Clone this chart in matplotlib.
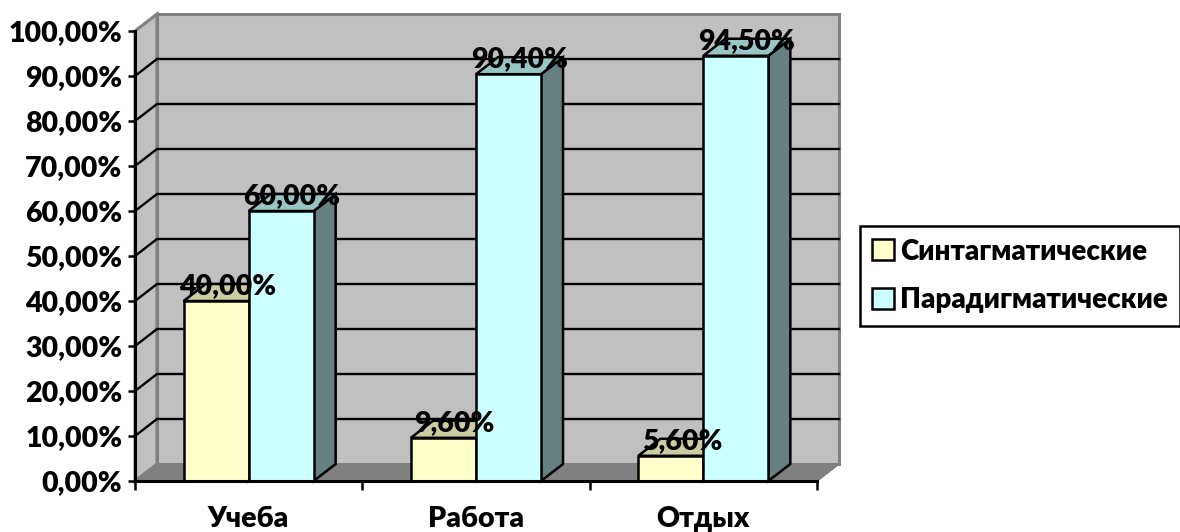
"""Pseudo-3D clustered column chart."""

import matplotlib

matplotlib.use("Agg")
import matplotlib.pyplot as plt
from matplotlib.patches import Patch, Polygon

plt.rcParams["font.family"] = ["Lato", "Open Sans", "DejaVu Sans"]

categories = ["Учеба", "Работа", "Отдых"]
syntagmatic = [40.0, 9.6, 5.6]
paradigmatic = [60.0, 90.4, 94.5]
y_ticks = [0, 10, 20, 30, 40, 50, 60, 70, 80, 90, 100]
series_names = ["Синтагматические", "Парадигматические"]

W, H = 1180, 532
DX = 22 / 227.3  # depth of the box in category units
DY = 17 / 4.5  # depth of the box in percent units
BAR_W = 65 / 227.3

WALL = "#C0C0C0"
FLOOR = "#808080"
YELLOW = "#FFFFCC"
YELLOW_TOP = "#CCCCA3"
CYAN = "#CCFFFF"
CYAN_TOP = "#99C5C5"
CYAN_SIDE = "#668080"
FONT_SIZE = 20.5
FONT_WEIGHT = 800


def fmt(v):
    return f"{v:.2f}".replace(".", ",") + "%"


def add_poly(ax, pts, face, edge="black", lw=1.8, z=3):
    ax.add_patch(Polygon(pts, closed=True, facecolor=face, edgecolor=edge,
                         linewidth=lw, clip_on=False, zorder=z, joinstyle="miter"))


fig = plt.figure(figsize=(W / 100, H / 100), dpi=100)
ax = fig.add_axes([135 / W, (H - 481) / H, 682 / W, 450 / H])
ax.set_xlim(0, 3)
ax.set_ylim(0, 100)
ax.patch.set_visible(False)

n = len(categories)
top = y_ticks[-1]

# walls and floor
add_poly(ax, [(DX, DY), (n + DX, DY), (n + DX, top + DY), (DX, top + DY)], WALL, FLOOR, 2.2, 1)
add_poly(ax, [(0, 0), (DX, DY), (DX, top + DY), (0, top)], WALL, FLOOR, 2.2, 1)
add_poly(ax, [(0, 0), (n, 0), (n + DX, DY), (DX, DY)], FLOOR, FLOOR, 1.2, 1)

# gridlines on the side and back walls
for v in y_ticks[1:-1]:
    ax.plot([0, DX, n + DX], [v, v + DY, v + DY], color="black", lw=1.7,
            clip_on=False, zorder=2, solid_joinstyle="miter")

for i in range(n):
    centre = i + 0.5
    for j, (vals, face, top_col) in enumerate(
        [(syntagmatic, YELLOW, YELLOW_TOP), (paradigmatic, CYAN, CYAN_TOP)]
    ):
        v = vals[i]
        x0 = centre - BAR_W + j * BAR_W
        x1 = x0 + BAR_W
        add_poly(ax, [(x1, 0), (x1 + DX, DY), (x1 + DX, v + DY), (x1, v)], CYAN_SIDE, z=3 + j)
        add_poly(ax, [(x0, v), (x1, v), (x1 + DX, v + DY), (x0 + DX, v + DY)], top_col, z=3 + j)
        ax.bar(x0, v, width=BAR_W, align="edge", color=face, edgecolor="black",
               linewidth=1.8, clip_on=False, zorder=3 + j)
        ax.text((x0 + x1) / 2 + DX / 2, v + DY * 0.88, fmt(v), ha="center", va="center",
                fontsize=FONT_SIZE, fontweight=FONT_WEIGHT, color="black", zorder=10)

for side in ["top", "right"]:
    ax.spines[side].set_visible(False)
for side in ["left", "bottom"]:
    ax.spines[side].set_linewidth(2.2)
    ax.spines[side].set_zorder(8)

ax.set_yticks(y_ticks)
ax.set_yticklabels([fmt(v) for v in y_ticks], fontsize=FONT_SIZE, fontweight=FONT_WEIGHT)
ax.tick_params(axis="y", length=5, width=1.8, pad=4)

ax.set_xticks(range(n + 1))
ax.set_xticklabels([])
ax.tick_params(axis="x", which="major", length=6.5, width=1.8)
ax.set_xticks([i + 0.5 for i in range(n)], minor=True)
ax.set_xticklabels(categories, minor=True, fontsize=FONT_SIZE, fontweight=FONT_WEIGHT)
ax.tick_params(axis="x", which="minor", length=0, pad=18)

handles = [
    Patch(facecolor=YELLOW, edgecolor="black", linewidth=1.8),
    Patch(facecolor=CYAN, edgecolor="black", linewidth=1.8),
]
leg = fig.legend(
    handles, series_names, loc="upper left",
    bbox_to_anchor=(860 / W, (H - 226) / H), bbox_transform=fig.transFigure,
    prop={"size": 20, "weight": FONT_WEIGHT}, fancybox=False, framealpha=1,
    edgecolor="black", borderaxespad=0, borderpad=0.45, handlelength=0.78,
    handleheight=0.78, handletextpad=0.2, labelspacing=0.82,
)
leg.get_frame().set_linewidth(1.8)

fig.savefig("out.png", dpi=100)
plt.close(fig)
